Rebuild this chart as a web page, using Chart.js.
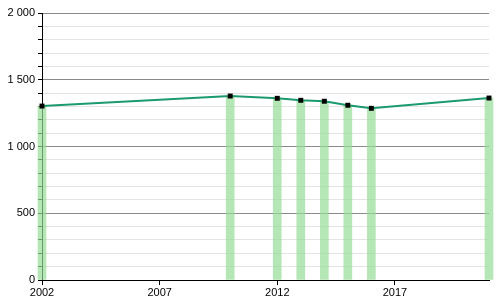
<!DOCTYPE html>
<html>
<head>
<meta charset="utf-8">
<script src="https://cdn.jsdelivr.net/npm/chart.js@4"></script>
<style>
  body { margin: 0; background: #fff; }
  #chart { display: block; }
</style>
</head>
<body>
<canvas id="chart" width="500" height="300"></canvas>
<script>
// data
let years = [2002, 2010, 2012, 2013, 2014, 2015, 2016, 2021];
let values = [1303, 1378, 1361, 1346, 1339, 1309, 1286, 1363];
let xTicks = [2002, 2007, 2012, 2017];
let yMajor = [0, 500, 1000, 1500, 2000];

let points = years.map((y, i) => ({ x: y, y: values[i] }));

function fmt(v) {
    // thousands with a space, like "1 500"
    return String(v).replace(/\B(?=(\d{3})+(?!\d))/g, " ");
}

let ctx = document.querySelector("#chart");

Chart.defaults.font.family = "'Liberation Sans', Arial, sans-serif";
Chart.defaults.font.size = 11;
Chart.defaults.color = "#000";

new Chart(ctx, {
    type: "bar",
    data: {
        datasets: [
            {
                type: "line",
                data: points,
                borderColor: "#1b9a70",
                borderWidth: 2,
                pointStyle: "rect",
                pointRadius: 3.5,
                pointBackgroundColor: "#000",
                pointBorderWidth: 0,
                tension: 0,
                clip: false,
                order: 1
            },
            {
                type: "bar",
                data: points,
                backgroundColor: "rgba(150, 220, 150, 0.7)",
                borderWidth: 0,
                barThickness: 8,
                clip: false,
                order: 2
            }
        ]
    },
    options: {
        responsive: false,
        animation: false,
        layout: {
            padding: { top: 13, right: 11, left: 0, bottom: 0 }
        },
        plugins: {
            legend: { display: false },
            tooltip: { enabled: false }
        },
        scales: {
            x: {
                type: "linear",
                min: 2002,
                max: 2021,
                offset: false,
                afterBuildTicks: function (scale) {
                    scale.ticks = xTicks.map(v => ({ value: v }));
                },
                ticks: {
                    autoSkip: false,
                    maxRotation: 0,
                    padding: 1,
                    callback: v => String(v)
                },
                grid: {
                    display: true,
                    drawOnChartArea: false,
                    drawTicks: true,
                    tickLength: 5,
                    tickColor: "#000",
                    offset: false
                },
                border: { display: true, color: "#000", width: 1 },
                afterFit: function (scale) { scale.height = 20; }
            },
            y: {
                min: 0,
                max: 2000,
                ticks: {
                    stepSize: 100,
                    autoSkip: false,
                    padding: 3,
                    callback: v => (yMajor.includes(v) ? fmt(v) : "")
                },
                grid: {
                    color: c => (c.tick && c.tick.value % 500 === 0 ? "#8a8a8a" : "#e4e4e4"),
                    tickColor: "#000",
                    tickLength: 4
                },
                border: { display: true, color: "#000", width: 1 },
                afterFit: function (scale) { scale.width = 42; }
            }
        }
    }
});
</script>
</body>
</html>
